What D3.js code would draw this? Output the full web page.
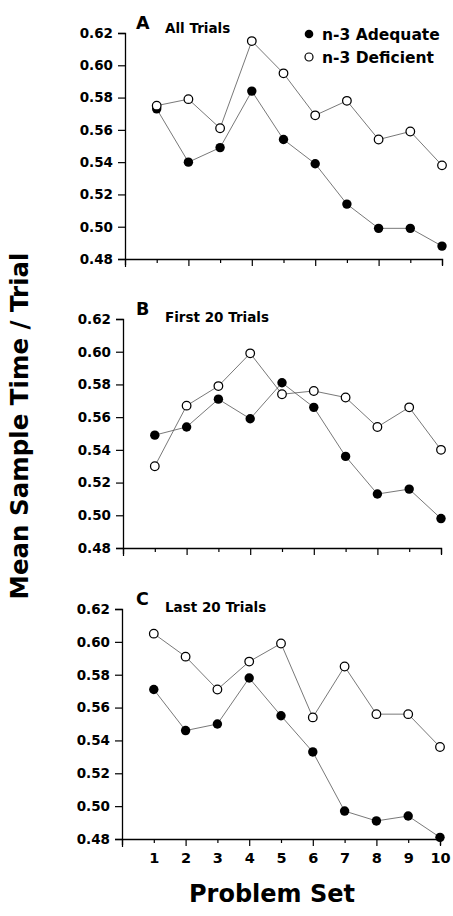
<!DOCTYPE html>
<html>
<head>
<meta charset="utf-8">
<script src="https://cdn.jsdelivr.net/npm/d3@7"></script>
<style>
  html, body { margin: 0; padding: 0; background: #fff; }
  svg { display: block; }
  text { font-family: "DejaVu Sans", sans-serif; font-weight: bold; fill: #000; }
</style>
</head>
<body>
<script>
// ---- Data ----
const problemSets = [1, 2, 3, 4, 5, 6, 7, 8, 9, 10];
const adequateA  = [0.573, 0.540, 0.549, 0.584, 0.554, 0.539, 0.514, 0.499, 0.499, 0.488];
const deficientA = [0.575, 0.579, 0.561, 0.615, 0.595, 0.569, 0.578, 0.554, 0.559, 0.538];
const adequateB  = [0.549, 0.554, 0.571, 0.559, 0.581, 0.566, 0.536, 0.513, 0.516, 0.498];
const deficientB = [0.530, 0.567, 0.579, 0.599, 0.574, 0.576, 0.572, 0.554, 0.566, 0.540];
const adequateC  = [0.571, 0.546, 0.550, 0.578, 0.555, 0.533, 0.497, 0.491, 0.494, 0.481];
const deficientC = [0.605, 0.591, 0.571, 0.588, 0.599, 0.554, 0.585, 0.556, 0.556, 0.536];
const yTickValues = [0.48, 0.50, 0.52, 0.54, 0.56, 0.58, 0.60, 0.62];
const xTickValues = [0, 1, 2, 3, 4, 5, 6, 7, 8, 9, 10];
const panelLetters = ["A", "B", "C"];
const panelTitles = ["All Trials", "First 20 Trials", "Last 20 Trials"];
const seriesNames = ["n-3 Adequate", "n-3 Deficient"];
const yLabel = "Mean Sample Time / Trial";
const xLabel = "Problem Set";

// ---- Layout ----
const W = 453, H = 916;
const panels = [
  { adequate: adequateA, deficient: deficientA, x0: 125, x1: 442, top: 33, bottom: 259, showXLabels: false },
  { adequate: adequateB, deficient: deficientB, x0: 123, x1: 441, top: 319, bottom: 548, showXLabels: false },
  { adequate: adequateC, deficient: deficientC, x0: 122, x1: 440, top: 609, bottom: 839, showXLabels: true }
];

const svg = d3.select("body").append("svg")
  .attr("width", W).attr("height", H);

panels.forEach((p, pi) => {
  const x = d3.scaleLinear().domain([0, 10]).range([p.x0, p.x1]);
  const y = d3.scaleLinear().domain([0.48, 0.62]).range([p.bottom, p.top]);
  const g = svg.append("g");

  // Y axis
  const yAxis = d3.axisLeft(y).tickValues(yTickValues)
    .tickFormat(d3.format(".2f")).tickSizeOuter(0).tickSize(7).tickPadding(5);
  const ya = g.append("g").attr("transform", `translate(${p.x0},0)`).call(yAxis);
  ya.select(".domain").attr("stroke", "#000").attr("stroke-width", 1.3);
  ya.selectAll(".tick line").attr("stroke", "#000").attr("stroke-width", 1.2);
  ya.selectAll(".tick text").attr("font-size", 13.5).attr("font-family", "DejaVu Sans")
    .attr("font-weight", "bold").attr("fill", "#000");

  // X axis
  const xAxis = d3.axisBottom(x).tickValues(xTickValues)
    .tickFormat(d => (p.showXLabels && d > 0) ? d : "")
    .tickSizeOuter(0).tickSize(6).tickPadding(8);
  const xa = g.append("g").attr("transform", `translate(0,${p.bottom})`).call(xAxis);
  xa.select(".domain").attr("stroke", "#000").attr("stroke-width", 1.3);
  xa.selectAll(".tick line")
    .attr("stroke", "#000").attr("stroke-width", 1.2)
    .attr("y2", d => d === 0 ? 8 : (d % 2 === 0 ? 7 : 4));
  xa.selectAll(".tick text").attr("font-size", 14.5).attr("font-family", "DejaVu Sans")
    .attr("font-weight", "bold").attr("fill", "#000");

  // Panel label
  g.append("text").attr("x", 136).attr("y", p.top - 4)
    .attr("font-size", 17.5).text(panelLetters[pi]);
  g.append("text").attr("x", 165).attr("y", p.top + (pi === 0 ? 0 : 3))
    .attr("font-size", 13.5).text(panelTitles[pi]);

  const line = d3.line().x((d, i) => x(problemSets[i])).y(d => y(d));

  // Lines
  g.append("path").datum(p.adequate).attr("d", line)
    .attr("fill", "none").attr("stroke", "#555").attr("stroke-width", 0.8);
  g.append("path").datum(p.deficient).attr("d", line)
    .attr("fill", "none").attr("stroke", "#555").attr("stroke-width", 0.8);

  // Markers: filled then open
  g.selectAll(".adq").data(p.adequate).enter().append("circle")
    .attr("cx", (d, i) => x(problemSets[i])).attr("cy", d => y(d))
    .attr("r", 4.7).attr("fill", "#000");
  g.selectAll(".def").data(p.deficient).enter().append("circle")
    .attr("cx", (d, i) => x(problemSets[i])).attr("cy", d => y(d))
    .attr("r", 4.3).attr("fill", "#fff").attr("stroke", "#000").attr("stroke-width", 1.25);
});

// Legend (panel A)
const legend = svg.append("g");
legend.append("circle").attr("cx", 309).attr("cy", 34).attr("r", 4.3).attr("fill", "#000");
legend.append("text").attr("x", 322).attr("y", 39.5).attr("font-size", 15.5).text(seriesNames[0]);
legend.append("circle").attr("cx", 309).attr("cy", 57).attr("r", 4).attr("fill", "#fff")
  .attr("stroke", "#000").attr("stroke-width", 1.2);
legend.append("text").attr("x", 322).attr("y", 62.5).attr("font-size", 15.5).text(seriesNames[1]);

// Axis titles
svg.append("text")
  .attr("transform", "translate(28,426) rotate(-90)")
  .attr("text-anchor", "middle").attr("font-size", 24.5).text(yLabel);
svg.append("text")
  .attr("x", 272).attr("y", 902)
  .attr("text-anchor", "middle").attr("font-size", 24).text(xLabel);
</script>
</body>
</html>
